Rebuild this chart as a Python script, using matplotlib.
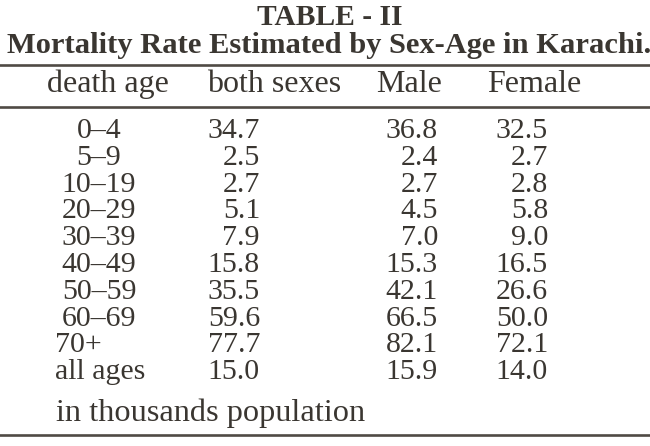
import matplotlib
matplotlib.use("Agg")
import matplotlib.pyplot as plt

ages = ["0–4", "5–9", "10–19", "20–29", "30–39", "40–49", "50–59", "60–69", "70+", "all ages"]
both_sexes = [34.7, 2.5, 2.7, 5.1, 7.9, 15.8, 35.5, 59.6, 77.7, 15.0]
male = [36.8, 2.4, 2.7, 4.5, 7.0, 15.3, 42.1, 66.5, 82.1, 15.9]
female = [32.5, 2.7, 2.8, 5.8, 9.0, 16.5, 26.6, 50.0, 72.1, 14.0]
headers = ["death age", "both sexes", "Male", "Female"]
title = "TABLE - II"
subtitle = "Mortality Rate Estimated by Sex-Age in Karachi."
footnote = "in thousands population"

W, H = 650, 446
fig = plt.figure(figsize=(W / 100, H / 100), dpi=100)
fig.patch.set_facecolor("white")
ax = fig.add_axes([0, 0, 1, 1])
ax.set_xlim(0, W)
ax.set_ylim(H, 0)
ax.axis("off")

ink = "#3a3631"
rule = "#4f4a44"
font = "Liberation Serif"
fs = 21.5
hfs = 23

fig.canvas.draw()
renderer = fig.canvas.get_renderer()

def fit(t, width):
    bb = t.get_window_extent(renderer)
    t.set_fontsize(t.get_fontsize() * width / bb.width)

t1 = ax.text(330, 25, title, ha="center", va="baseline", family=font,
             weight="bold", fontsize=20, color=ink)
fit(t1, 145)
t2 = ax.text(329, 53, subtitle, ha="center", va="baseline", family=font,
             weight="bold", fontsize=20, color=ink)
fit(t2, 642)

ax.plot([0, W], [65, 65], color=rule, lw=1.9)
ax.plot([0, W], [107, 107], color=rule, lw=1.9)
ax.plot([0, W], [435, 435], color=rule, lw=1.9)

hx = [47, 207, 376, 487]
for x, h in zip(hx, headers):
    ax.text(x, 92, h, ha="left", va="baseline", family=font, fontsize=hfs, color=ink)

y0, dy = 138, 26.8
for i, (a, b, m, f) in enumerate(zip(ages, both_sexes, male, female)):
    y = y0 + i * dy
    if "–" in a:
        ax.text(99, y, a, ha="center", va="baseline", family=font, fontsize=fs, color=ink)
    else:
        ax.text(55, y, a, ha="left", va="baseline", family=font, fontsize=fs, color=ink)
    ax.text(260, y, f"{b:.1f}", ha="right", va="baseline", family=font, fontsize=fs, color=ink)
    ax.text(438, y, f"{m:.1f}", ha="right", va="baseline", family=font, fontsize=fs, color=ink)
    ax.text(548, y, f"{f:.1f}", ha="right", va="baseline", family=font, fontsize=fs, color=ink)

t3 = ax.text(56, 421, footnote, ha="left", va="baseline", family=font, fontsize=fs, color=ink)
fit(t3, 309)

fig.savefig("out.png", dpi=100, facecolor="white")
